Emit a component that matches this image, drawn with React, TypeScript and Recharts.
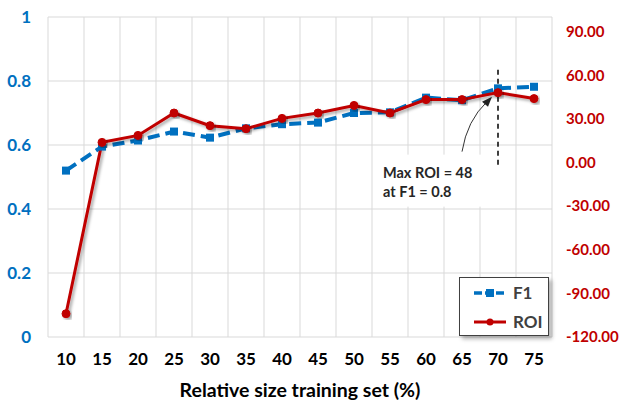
import {
  ComposedChart,
  Line,
  XAxis,
  YAxis,
  CartesianGrid,
  Legend,
  ReferenceDot,
} from "recharts";

const categories = ["10", "15", "20", "25", "30", "35", "40", "45", "50", "55", "60", "65", "70", "75"];
const f1Values = [0.52, 0.595, 0.614, 0.642, 0.623, 0.652, 0.665, 0.67, 0.7, 0.702, 0.748, 0.74, 0.777, 0.782];
const roiValues = [-104, 13.8, 18.6, 34, 25.3, 23.2, 30.3, 34, 39.2, 34, 43.2, 43.2, 48, 43.9];
const leftTicks = [0, 0.2, 0.4, 0.6, 0.8, 1];
const rightTicks = [-120, -90, -60, -30, 0, 30, 60, 90];

const data = categories.map((size, i) => ({ size, f1: f1Values[i], roi: roiValues[i] }));

const BLUE = "#0070C0";
const RED = "#C00000";
const FONT = "Lato, 'Open Sans', sans-serif";

// vertical grid lines sit between categories (Excel style), not on them
function gridVerticals({ offset }: any) {
  const step = offset.width / categories.length;
  return Array.from({ length: categories.length + 1 }, (_, i) => offset.left + i * step);
}

function SquareDot({ cx, cy }: any) {
  if (cx == null || cy == null) return null;
  return <rect x={cx - 4} y={cy - 4} width={8} height={8} fill={BLUE} />;
}

function Annotation({ cx, cy }: any) {
  if (cx == null || cy == null) return null;
  return (
    <g>
      <rect x={cx - 124} y={cy + 62} width={125} height={52} fill="#fff" />
      <line x1={cx} x2={cx} y1={cy - 23} y2={cy + 75} stroke="#000" strokeWidth={1.5} strokeDasharray="5 4" />
      <path
        d={`M${cx - 36},${cy + 59} Q${cx - 31},${cy + 28} ${cx - 11},${cy + 9}`}
        fill="none"
        stroke="#333"
        strokeWidth={1}
      />
      <path d={`M${cx - 6},${cy + 4} L${cx - 16},${cy + 9} L${cx - 10},${cy + 14} Z`} fill="#222" />
      <text x={cx - 115} y={cy + 85} fontFamily={FONT} fontWeight="bold" fontSize={14.5} fill="#262626">
        Max ROI = 48
      </text>
      <text x={cx - 115} y={cy + 104} fontFamily={FONT} fontWeight="bold" fontSize={14.5} fill="#262626">
        at F1 = 0.8
      </text>
    </g>
  );
}

function LegendBox() {
  return (
    <div
      style={{
        width: 88,
        height: 57,
        border: "1px solid #404040",
        background: "#fff",
        boxShadow: "3px 3px 4px rgba(0,0,0,0.3)",
        fontFamily: FONT,
        fontWeight: "bold",
        fontSize: 17,
        color: "#404040",
      }}
    >
      <svg width={88} height={57} style={{ display: "block" }}>
        <line x1={14} x2={46} y1={15} y2={15} stroke={BLUE} strokeWidth={3.5} strokeDasharray="8 3" />
        <rect x={26} y={11} width={8} height={8} fill={BLUE} />
        <text x={53} y={21} fill="#404040">F1</text>
        <line x1={14} x2={46} y1={44} y2={44} stroke={RED} strokeWidth={3} />
        <circle cx={30} cy={44} r={3.5} fill={RED} />
        <text x={53} y={50} fill="#404040">ROI</text>
      </svg>
    </div>
  );
}

export default function App() {
  return (
    <div style={{ position: "absolute", left: 0, top: 0, background: "#fff" }}>
      <ComposedChart
        width={622}
        height={405}
        data={data}
        margin={{ top: 17, right: 0, left: 0, bottom: 0 }}
      >
        <defs>
          <filter id="lineShadow" x="-10%" y="-10%" width="130%" height="130%">
            <feDropShadow dx="2" dy="2" stdDeviation="1.5" floodColor="#000" floodOpacity="0.35" />
          </filter>
        </defs>

        <CartesianGrid
          yAxisId="left"
          stroke="#d9d9d9"
          verticalCoordinatesGenerator={gridVerticals}
        />

        <XAxis
          dataKey="size"
          height={68}
          padding={{ left: 18, right: 18 }}
          axisLine={false}
          tickLine={false}
          tickMargin={10}
          tick={{ fontSize: 17, fontWeight: "bold", fill: "#000", fontFamily: FONT }}
          interval={0}
          label={{
            value: "Relative size training set (%)",
            position: "insideBottom",
            offset: 8,
            style: { fontSize: 19.5, fontWeight: "bold", fill: "#000", fontFamily: FONT },
          }}
        />

        <YAxis
          yAxisId="left"
          orientation="left"
          width={48}
          domain={[0, 1]}
          ticks={leftTicks}
          axisLine={false}
          tickLine={false}
          tickSize={0}
          tickMargin={17}
          tickFormatter={(v: number) => String(v)}
          tick={{ fontSize: 17, fontWeight: "bold", fill: BLUE, fontFamily: FONT }}
        />

        <YAxis
          yAxisId="right"
          orientation="right"
          width={70}
          domain={[-120, 100]}
          ticks={rightTicks}
          allowDataOverflow
          axisLine={false}
          tickLine={false}
          tickSize={0}
          tickMargin={14}
          tickFormatter={(v: number) => v.toFixed(2)}
          tick={{ fontSize: 15, fontWeight: "bold", fill: RED, fontFamily: FONT }}
        />

        <Legend
          layout="horizontal"
          verticalAlign="middle"
          align="center"
          wrapperStyle={{ left: 459, top: 277, width: 90, height: 59 }}
          content={() => <LegendBox />}
        />

        <Line
          yAxisId="left"
          type="linear"
          dataKey="f1"
          name="F1"
          stroke={BLUE}
          strokeWidth={4}
          strokeDasharray="12 6"
          dot={<SquareDot />}
          activeDot={false}
          isAnimationActive={false}
        />

        <Line
          yAxisId="right"
          type="linear"
          dataKey="roi"
          name="ROI"
          stroke={RED}
          strokeWidth={3}
          dot={{ r: 4, fill: RED, stroke: RED, strokeWidth: 1 }}
          activeDot={false}
          filter="url(#lineShadow)"
          isAnimationActive={false}
        />

        <ReferenceDot
          yAxisId="right"
          x="70"
          y={48}
          r={0}
          shape={(props: any) => <Annotation {...props} />}
          ifOverflow="visible"
        />
      </ComposedChart>
    </div>
  );
}
